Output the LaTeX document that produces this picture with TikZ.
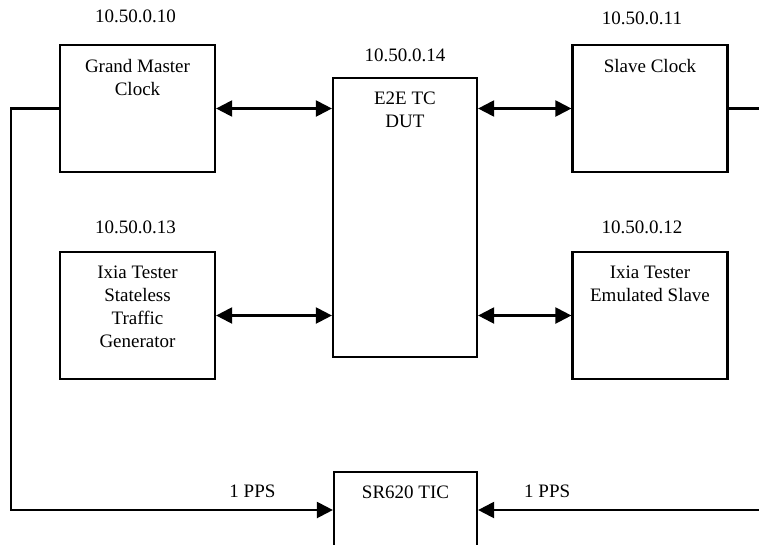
\documentclass[tikz,border=0pt]{standalone}
\usepackage{fontspec}
\setmainfont{Liberation Serif}
\usepackage{tikz}
\usetikzlibrary{positioning}
\usetikzlibrary{arrows.meta}

\begin{document}
\begin{tikzpicture}[x=1pt, y=-1pt,
    every node/.style={font=\fontsize{19}{23}\selectfont, inner sep=0pt, align=center},
    caja/.style={draw, rectangle, line width=2.2pt, minimum width=155pt, minimum height=127pt},
    enlace/.style={line width=2.2pt, {Triangle[length=16pt,width=16pt]}-{Triangle[length=16pt,width=16pt]}},
    pps/.style={line width=2.2pt, -{Triangle[length=16pt,width=16pt]}}]
            \useasboundingbox (0,0) rectangle (759,544);
            % Cajas
            \node[caja] (gm) at (137.5,108.5) {};
            \node[caja] (sc) at (650,108.5) {};
            \node[caja, minimum width=144pt, minimum height=279pt] (dut) at (405,217.5) {};
            \node[caja] (gen) at (137.5,315.5) {};
            \node[caja] (emu) at (650,315.5) {};
            \node[caja, minimum width=143pt, minimum height=76pt] (tic) at (405.5,510) {};

            % Textos
            \node[below=15pt of gm.north] (gmtxt) {Grand Master\\Clock};
            \node[below=15pt of sc.north] (sctxt) {Slave Clock};
            \node[below=15pt of dut.north] (duttxt) {E2E TC\\DUT};
            \node[below=15pt of gen.north] (gentxt) {Ixia Tester\\Stateless\\Traffic\\Generator};
            \node[below=15pt of emu.north] (emutxt) {Ixia Tester\\Emulated Slave};
            \node[below=15pt of tic.north] (tictxt) {SR620 TIC};

            % Direcciones
            \node[above=21pt of gm, xshift=-2pt] (gmip) {10.50.0.10};
            \node[above=19pt of sc, xshift=-8pt] (scip) {10.50.0.11};
            \node[above=15pt of dut] (dutip) {10.50.0.14};
            \node[above=17pt of gen, xshift=-2pt] (genip) {10.50.0.13};
            \node[above=17pt of emu, xshift=-8pt] (emuip) {10.50.0.12};

            % Enlaces
            \draw[enlace] (gm.east) -- (gm.east -| dut.west);
            \draw[enlace] (gen.east) -- (gen.east -| dut.west);
            \draw[enlace] (sc.west) -- (sc.west -| dut.east);
            \draw[enlace] (emu.west) -- (emu.west -| dut.east);

            \coordinate (izq) at (11,510);
            \coordinate (der) at (766,510);
            \draw[pps] (gm.west) -| (izq) -- (tic.west) node[pos=0.75, above=11pt] (ppsizq) {1 PPS};
            \draw[pps] (sc.east) -| (der) -- (tic.east) node[pos=0.76, above=11pt] (ppsder) {1 PPS};
          \end{tikzpicture}
\end{document}
